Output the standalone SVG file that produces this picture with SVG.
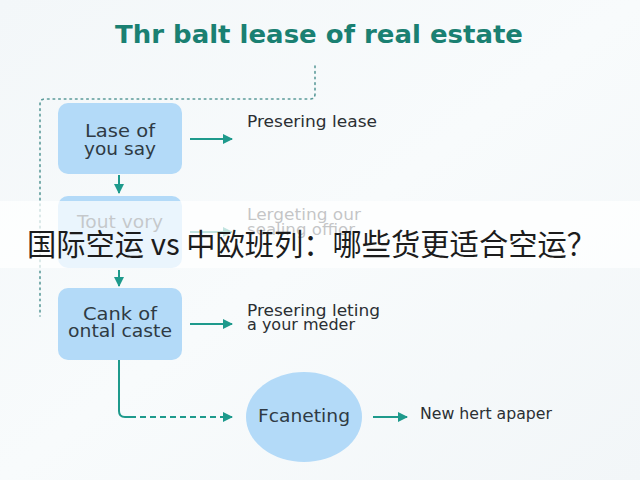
<svg xmlns="http://www.w3.org/2000/svg" width="640" height="480" viewBox="0 0 640 480">
<defs>
<linearGradient id="bg" x1="0" y1="0" x2="1" y2="1">
<stop offset="0" stop-color="#f3f7f9"/>
<stop offset="0.5" stop-color="#f8fbfc"/>
<stop offset="1" stop-color="#f2f6f8"/>
</linearGradient>
<marker id="ah" viewBox="0 0 10 10" refX="9" refY="5" markerWidth="10" markerHeight="10" markerUnits="userSpaceOnUse" orient="auto">
<path d="M0,0 L10,5 L0,10 z" fill="#1e9a8c"/>
</marker>
<style>
.node{fill:#b3daf8;}
.nt{font-family:"DejaVu Sans","Open Sans",sans-serif;font-size:17px;fill:#2f3a44;text-anchor:middle;}
.lb{font-family:"DejaVu Sans","Open Sans",sans-serif;font-size:15px;fill:#2b2f33;}
.ar{stroke:#1e9a8c;stroke-width:2;fill:none;marker-end:url(#ah);}
.title{font-family:"DejaVu Sans","Open Sans",sans-serif;font-size:25px;font-weight:bold;fill:#1a8072;}
</style>
</defs>
<rect width="640" height="480" fill="url(#bg)"/>
<text class="title" x="115" y="43" textLength="408" lengthAdjust="spacingAndGlyphs">Thr balt lease of real estate</text>
<g id="connectors">
<path d="M315,66 V94 Q315,99 310,99 H45 Q40,99 40,104 V316" fill="none" stroke="#5a9a99" stroke-width="1.6" stroke-dasharray="1.6 4" stroke-linecap="round"/>
<line class="ar" x1="190" y1="139" x2="232" y2="139"/>
<line class="ar" x1="119" y1="175" x2="119" y2="193"/>
<line class="ar" x1="190" y1="232" x2="232" y2="232"/>
<line class="ar" x1="119" y1="270" x2="119" y2="286"/>
<line class="ar" x1="190" y1="324" x2="232" y2="324"/>
<path d="M119,360 V411 Q119,417 125,417 H130" fill="none" stroke="#1e9a8c" stroke-width="2"/>
<path class="ar" d="M130,417 H232" stroke-dasharray="6 4"/>
<line class="ar" x1="373" y1="417" x2="407" y2="417"/>
</g>
<g id="node1">
<rect class="node" x="58" y="103" width="124" height="71" rx="10"/>
<text class="nt" x="120" y="137" textLength="70" lengthAdjust="spacingAndGlyphs">Lase of</text>
<text class="nt" x="120" y="155" textLength="72" lengthAdjust="spacingAndGlyphs">you say</text>
<text class="lb" x="247" y="127" textLength="130" lengthAdjust="spacingAndGlyphs">Presering lease</text>
</g>
<g id="node2">
<rect class="node" x="58" y="196" width="124" height="72" rx="10"/>
<text class="nt" x="120" y="228" textLength="86" lengthAdjust="spacingAndGlyphs">Tout vory</text>
<text class="lb" x="247" y="220" textLength="114" lengthAdjust="spacingAndGlyphs">Lergeting our</text>
<text class="lb" x="247" y="235" textLength="108" lengthAdjust="spacingAndGlyphs">sealing offior</text>
</g>
<g id="node3">
<rect class="node" x="58" y="288" width="124" height="72" rx="10"/>
<text class="nt" x="120" y="320" textLength="74" lengthAdjust="spacingAndGlyphs">Cank of</text>
<text class="nt" x="120" y="337" textLength="104" lengthAdjust="spacingAndGlyphs">ontal caste</text>
<text class="lb" x="247" y="316" textLength="133" lengthAdjust="spacingAndGlyphs">Presering leting</text>
<text class="lb" x="247" y="330" textLength="108" lengthAdjust="spacingAndGlyphs">a your meder</text>
</g>
<g id="node4">
<ellipse class="node" cx="304" cy="417" rx="58" ry="45"/>
<text class="nt" x="304" y="422" textLength="92" lengthAdjust="spacingAndGlyphs">Fcaneting</text>
<text class="lb" x="420" y="419" textLength="132" lengthAdjust="spacingAndGlyphs">New hert apaper</text>
</g>
<rect x="0" y="201" width="640" height="67" fill="#ffffff" opacity="0.72"/>
<text x="27" y="255" font-family="'Noto Sans CJK SC','DejaVu Sans',sans-serif" font-size="30" fill="#1c1c1c" textLength="569" lengthAdjust="spacingAndGlyphs">国际空运 vs 中欧班列：哪些货更适合空运？</text>
</svg>
